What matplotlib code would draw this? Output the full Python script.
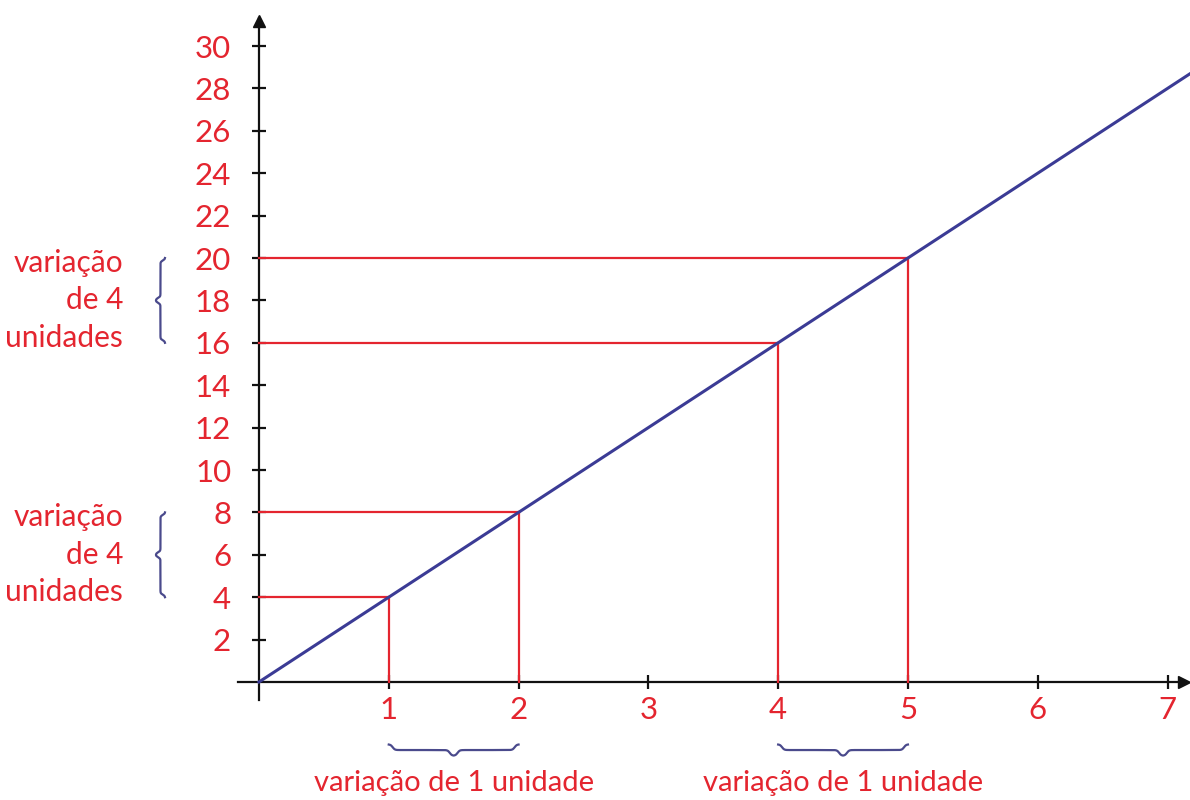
import matplotlib.pyplot as plt
import numpy as np

plt.rcParams['font.family'] = ['Lato', 'DejaVu Sans']

# data: y = 4x, highlighted points
slope = 4
x_marks = [1, 2, 4, 5]
x_ticks = [1, 2, 3, 4, 5, 6, 7]
y_ticks = list(range(2, 31, 2))
brace_x_pairs = [(1, 2), (4, 5)]
brace_y_pairs = [(16, 20), (4, 8)]
x_note = "variação de 1 unidade"
y_note = "variação\nde 4\nunidades"

red = "#e4252f"
blue = "#3b3b95"
brace_col = "#4a4a8c"

fig = plt.figure(figsize=(11.9, 8), dpi=100)
ax = fig.add_axes([0, 0, 1, 1])
xmin, xmax = -1.995, 7.173
ymin, ymax = -5.566, 32.17
ax.set_xlim(xmin, xmax)
ax.set_ylim(ymin, ymax)
ax.patch.set_visible(False)

# pixels per data unit
px_x = 1190 / (xmax - xmin)
px_y = 800 / (ymax - ymin)

for s in ["top", "right"]:
    ax.spines[s].set_visible(False)
ax.spines["left"].set_position(("data", 0))
ax.spines["bottom"].set_position(("data", 0))
ax.spines["left"].set_bounds(-0.85, 31.3)
ax.spines["bottom"].set_bounds(-0.16, 7.12)
for s in ["left", "bottom"]:
    ax.spines[s].set_linewidth(1.6)
    ax.spines[s].set_color("#111111")

ax.set_xticks(x_ticks)
ax.set_yticks(y_ticks)
ax.tick_params(direction="inout", length=10, width=1.6, color="#111111",
               labelcolor=red, labelsize=22.5)
ax.tick_params(axis="y", pad=15)
ax.tick_params(axis="x", pad=5)

# arrow heads
ax.plot([0], [31.2], marker="^", markersize=9, color="#111111", clip_on=False)
ax.plot([7.13], [0], marker=">", markersize=9, color="#111111", clip_on=False)

# red guide lines
for xv in x_marks:
    yv = slope * xv
    ax.plot([0, xv], [yv, yv], color=red, lw=1.6, zorder=3)
    ax.plot([xv, xv], [0, yv], color=red, lw=1.6, zorder=3)

# main line
xs = np.array([0, xmax + 0.1])
ax.plot(xs, slope * xs, color=blue, lw=2.2, zorder=4)


def brace(a, b, depth, n=200, beta=60.0):
    # curly brace profile from a to b, tip in the middle
    half = (b - a) / 2
    t = np.linspace(0, half, n)
    u = t / half
    h = 1 / (1 + np.exp(-beta * (u - 0.06))) + 1 / (1 + np.exp(-beta * (u - 0.94)))
    h = (h - h[0]) / (h[-1] - h[0])
    tt = np.concatenate([a + t, b - t[::-1][1:]])
    hh = np.concatenate([h, h[::-1][1:]])
    return tt, hh * depth


# horizontal braces under the x axis
for a, b in brace_x_pairs:
    t, off = brace(a, b, 11 / px_y)
    ax.plot(t, -2.95 - off, color=brace_col, lw=1.6)
    ax.text((a + b) / 2, -4.75, x_note, color=red, fontsize=21,
            ha="center", va="center")

# vertical braces left of the y axis
for a, b in brace_y_pairs:
    t, off = brace(a, b, 9 / px_x)
    ax.plot(-94 / px_x - off, t, color=brace_col, lw=1.6)
    ax.text(-136 / px_x, (a + b) / 2, y_note, color=red, fontsize=21.5,
            ha="right", va="center", linespacing=1.42)

fig.savefig("out.png", dpi=100)
